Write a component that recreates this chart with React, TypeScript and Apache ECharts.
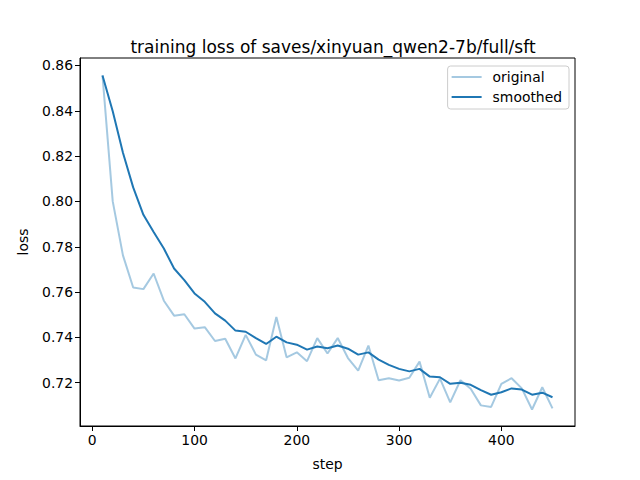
import React, { useEffect, useRef } from "react";
import * as echarts from "echarts";

const steps = [10, 20, 30, 40, 50, 60, 70, 80, 90, 100, 110, 120, 130, 140, 150, 160, 170, 180, 190, 200, 210, 220, 230, 240, 250, 260, 270, 280, 290, 300, 310, 320, 330, 340, 350, 360, 370, 380, 390, 400, 410, 420, 430, 440, 450];

const original = [0.8556, 0.8000, 0.7762, 0.7620, 0.7613, 0.7682, 0.7562, 0.7496, 0.7502, 0.7439, 0.7445, 0.7384, 0.7394, 0.7307, 0.7411, 0.7324, 0.7299, 0.7490, 0.7312, 0.7334, 0.7295, 0.7397, 0.7329, 0.7397, 0.7309, 0.7253, 0.7364, 0.7211, 0.7220, 0.7210, 0.7222, 0.7293, 0.7134, 0.7218, 0.7113, 0.7211, 0.7173, 0.7100, 0.7093, 0.7195, 0.7220, 0.7175, 0.7082, 0.7180, 0.7087];

const smoothed = [0.8556, 0.8398, 0.8215, 0.8062, 0.7941, 0.7865, 0.7792, 0.7704, 0.7653, 0.7594, 0.7557, 0.7506, 0.7474, 0.7430, 0.7425, 0.7397, 0.7371, 0.7403, 0.7378, 0.7368, 0.7346, 0.7360, 0.7352, 0.7364, 0.7350, 0.7324, 0.7334, 0.7302, 0.7279, 0.7261, 0.7250, 0.7261, 0.7227, 0.7224, 0.7195, 0.7200, 0.7191, 0.7167, 0.7147, 0.7158, 0.7175, 0.7170, 0.7147, 0.7156, 0.7136];

const xTicks = [0, 100, 200, 300, 400];
const yTicks = [0.72, 0.74, 0.76, 0.78, 0.8, 0.82, 0.84, 0.86];

const FONT = "DejaVu Sans";

export default function App() {
  const ref = useRef<HTMLDivElement>(null);
  useEffect(() => {
    if (!ref.current) return;
    const chart = echarts.init(ref.current, null, { renderer: "svg" });
    chart.setOption({
      animation: false,
      backgroundColor: "#ffffff",
      textStyle: { fontFamily: FONT },
      title: {
        text: "training loss of saves/xinyuan_qwen2-7b/full/sft",
        left: 328,
        textAlign: "center",
        top: 33,
        textStyle: { fontFamily: FONT, fontSize: 17, fontWeight: "normal", color: "#000" },
      },
      legend: {
        orient: "vertical",
        right: 71,
        top: 66,
        padding: [4, 7, 5, 4],
        itemGap: 6,
        itemWidth: 30,
        itemHeight: 2,
        icon: "rect",
        borderColor: "#cccccc",
        borderWidth: 1,
        borderRadius: 3,
        backgroundColor: "rgba(255,255,255,0.8)",
        textStyle: { fontFamily: FONT, fontSize: 13.9, color: "#000", padding: [0, 0, 0, 6] },
        data: ["original", "smoothed"],
      },
      grid: {
        left: 80,
        right: 65,
        top: 58,
        bottom: 54,
        show: true,
        borderColor: "#000",
        borderWidth: 1,
        backgroundColor: "transparent",
      },
      xAxis: {
        type: "value",
        min: -12,
        max: 472,
        name: "step",
        nameLocation: "middle",
        nameGap: 31,
        nameTextStyle: { fontFamily: FONT, fontSize: 13.9, color: "#000" },
        axisLine: { show: true, onZero: false, lineStyle: { color: "#000", width: 1 } },
        axisTick: { show: true, length: 5, customValues: xTicks, lineStyle: { color: "#000" } },
        axisLabel: { customValues: xTicks, fontFamily: FONT, fontSize: 13.9, color: "#000", margin: 7 },
        splitLine: { show: false },
      },
      yAxis: {
        type: "value",
        min: 0.7009,
        max: 0.8633,
        name: "loss",
        nameLocation: "middle",
        nameGap: 50,
        nameRotate: 90,
        nameTextStyle: { fontFamily: FONT, fontSize: 13.9, color: "#000" },
        axisLine: { show: true, onZero: false, lineStyle: { color: "#000", width: 1 } },
        axisTick: { show: true, length: 5, customValues: yTicks, lineStyle: { color: "#000" } },
        axisLabel: {
          customValues: yTicks,
          fontFamily: FONT,
          fontSize: 13.9,
          color: "#000",
          margin: 7,
          formatter: (v: number) => v.toFixed(2),
        },
        splitLine: { show: false },
      },
      series: [
        {
          name: "original",
          type: "line",
          data: steps.map((s, i) => [s, original[i]]),
          showSymbol: false,
          symbol: "none",
          color: "rgba(31,119,180,0.4)",
          lineStyle: { color: "rgba(31,119,180,0.4)", width: 2 },
          itemStyle: { color: "rgba(31,119,180,0.4)" },
          z: 2,
        },
        {
          name: "smoothed",
          type: "line",
          data: steps.map((s, i) => [s, smoothed[i]]),
          showSymbol: false,
          symbol: "none",
          color: "#1f77b4",
          lineStyle: { color: "#1f77b4", width: 2 },
          itemStyle: { color: "#1f77b4" },
          z: 3,
        },
      ],
    });
    return () => chart.dispose();
  }, []);
  return <div ref={ref} style={{ width: 640, height: 480, position: "absolute", left: 0, top: 0 }} />;
}
